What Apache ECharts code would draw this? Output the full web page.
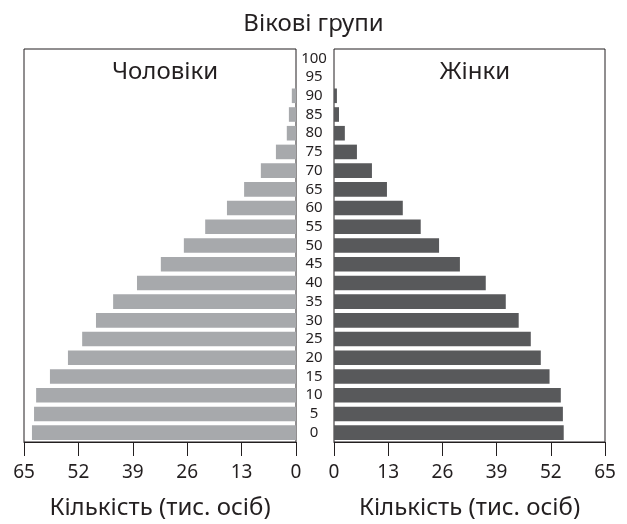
<!DOCTYPE html>
<html>
<head>
<meta charset="utf-8">
<script src="https://cdn.jsdelivr.net/npm/echarts@6/dist/echarts.min.js"></script>
<style>
  html, body { margin: 0; padding: 0; background: #fff; }
  #chart { width: 627px; height: 524px; }
</style>
</head>
<body>
<div id="chart"></div>
<script>
// вікові групи (знизу вгору)
const ageGroups = ['0', '5', '10', '15', '20', '25', '30', '35', '40', '45', '50',
  '55', '60', '65', '70', '75', '80', '85', '90', '95', '100'];
// чоловіки, тис. осіб
const men = [63.1, 62.6, 62.1, 58.8, 54.5, 51.1, 47.8, 43.7, 38.0, 32.3, 26.8,
  21.7, 16.5, 12.4, 8.4, 4.8, 2.2, 1.7, 1.0, null, null];
// жінки, тис. осіб
const women = [55.1, 54.9, 54.4, 51.7, 49.6, 47.2, 44.3, 41.2, 36.4, 30.2, 25.2,
  20.8, 16.5, 12.7, 9.1, 5.5, 2.6, 1.2, 0.7, null, null];
const axisMax = 65;
const axisStep = 13;

const font = 'Noto Sans';
const chart = echarts.init(document.getElementById('chart'));

const valueAxis = (gridIndex, inverse) => ({
  type: 'value',
  gridIndex: gridIndex,
  inverse: inverse,
  min: 0,
  max: axisMax,
  interval: axisStep,
  name: 'Кількість (тис. осіб)',
  nameLocation: 'middle',
  nameGap: 54,
  nameTextStyle: { fontFamily: font, fontSize: 24, color: '#231f20' },
  axisLine: { show: true, lineStyle: { color: '#231f20', width: 1 } },
  axisTick: { show: true, inside: false, length: 14, lineStyle: { color: '#231f20' } },
  axisLabel: { margin: 21, fontFamily: font, fontSize: 19, color: '#231f20' },
  splitLine: { show: false }
});

chart.setOption({
  animation: false,
  title: [
    { text: 'Вікові групи', left: 'center', top: 7,
      textStyle: { fontFamily: font, fontSize: 24, fontWeight: 'normal', color: '#231f20' } },
    { text: 'Чоловіки', left: 160, top: 55, textAlign: 'center',
      textStyle: { fontFamily: font, fontSize: 24, fontWeight: 'normal', color: '#231f20' } },
    { text: 'Жінки', left: 470, top: 55, textAlign: 'center',
      textStyle: { fontFamily: font, fontSize: 24, fontWeight: 'normal', color: '#231f20' } }
  ],
  grid: [
    { left: 24, right: 331, top: 49, bottom: 82, show: true, borderColor: '#231f20', borderWidth: 1,
      outerBoundsMode: 'none' },
    { left: 334, right: 22, top: 49, bottom: 82, show: true, borderColor: '#231f20', borderWidth: 1,
      outerBoundsMode: 'none' }
  ],
  xAxis: [valueAxis(0, true), valueAxis(1, false)],
  yAxis: [
    {
      type: 'category', gridIndex: 0, data: ageGroups, position: 'right',
      axisLine: { show: false }, axisTick: { show: false }, axisLabel: { show: false }
    },
    {
      type: 'category', gridIndex: 1, data: ageGroups, position: 'left',
      axisLine: { show: false }, axisTick: { show: false },
      axisLabel: { interval: 0, margin: 20, align: 'center', fontFamily: font, fontSize: 15, color: '#231f20' }
    }
  ],
  series: [
    {
      type: 'bar', xAxisIndex: 0, yAxisIndex: 0, data: men,
      barCategoryGap: '22%', itemStyle: { color: '#a7a9ac' }
    },
    {
      type: 'bar', xAxisIndex: 1, yAxisIndex: 1, data: women,
      barCategoryGap: '22%', itemStyle: { color: '#58595b' }
    }
  ]
});
</script>
</body>
</html>
